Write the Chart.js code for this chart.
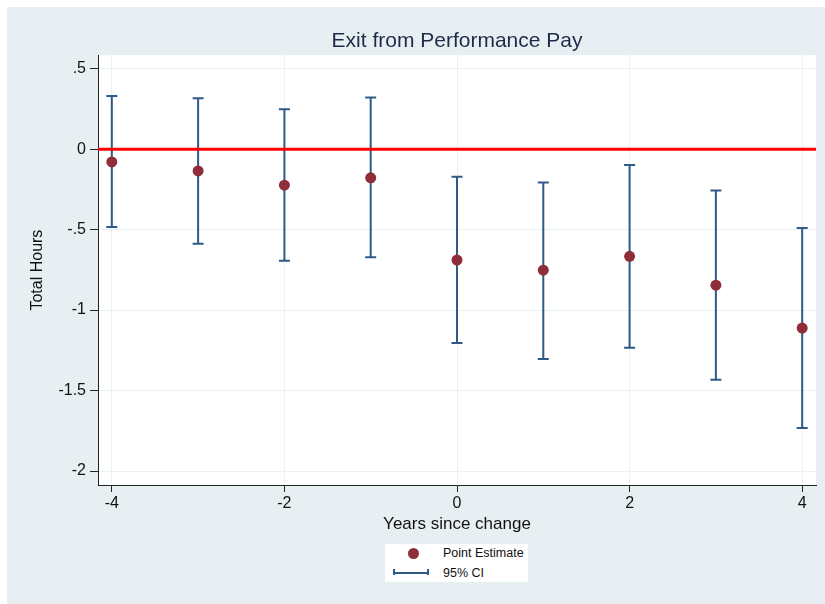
<!DOCTYPE html>
<html>
<head>
<meta charset="utf-8">
<title>Exit from Performance Pay</title>
<script src="https://cdn.jsdelivr.net/npm/chart.js@4/dist/chart.umd.min.js"></script>
<style>
  html, body { margin: 0; padding: 0; background: #fff; }
  #wrap { position: absolute; left: 7px; top: 7px; width: 818px; height: 597px; background: #e8eff2; }
  #legend { position: absolute; left: 378px; top: 537px; width: 143px; height: 38px; background: #fff;
            font-family: "Liberation Sans", Arial, sans-serif; font-size: 12.5px; color: #111; }
  .row { position: absolute; left: 0; height: 16px; line-height: 16px; }
  .row span.lbl { position: absolute; left: 58px; white-space: nowrap; }
  .dot { position: absolute; left: 22.5px; top: 2.5px; width: 11px; height: 11px; border-radius: 50%; background: #8f2d38; }
  .ci { position: absolute; left: 8px; top: 4px; width: 34px; height: 8px; }
  .ci:before { content: ""; position: absolute; left: 0; right: 0; top: 3px; height: 2px; background: #2d5a87; }
  .ci:after { content: ""; position: absolute; left: 0; top: 0; width: 32px; height: 6px; border-left: 2px solid #2d5a87; border-right: 2px solid #2d5a87; }
</style>
</head>
<body>
<div id="wrap">
  <canvas id="chart" width="818" height="597"></canvas>
  <div id="legend">
    <div class="row" style="top:1px; width:143px;"><div class="dot"></div><span class="lbl">Point Estimate</span></div>
    <div class="row" style="top:21px; width:143px;"><div class="ci"></div><span class="lbl">95% CI</span></div>
  </div>
</div>
<script>
// Event study: exit from performance pay
const years = [-4, -3, -2, -1, 0, 1, 2, 3, 4];
const estimates = [-0.079, -0.135, -0.224, -0.178, -0.689, -0.752, -0.666, -0.845, -1.112];
const ciUpper = [0.331, 0.317, 0.248, 0.321, -0.172, -0.207, -0.099, -0.257, -0.490];
const ciLower = [-0.484, -0.588, -0.694, -0.671, -1.205, -1.304, -1.234, -1.433, -1.733];

const xTickValues = [-4, -2, 0, 2, 4];
const xTickLabels = ['-4', '-2', '0', '2', '4'];
const yTickValues = [0.5, 0, -0.5, -1, -1.5, -2];
const yTickLabels = ['.5', '0', '-.5', '-1', '-1.5', '-2'];

const FONT = '"Liberation Sans", Arial, sans-serif';

// white plot region
const plotBackground = {
    id: 'plotBackground',
    beforeDraw(chart) {
        const { ctx, chartArea: a } = chart;
        ctx.save();
        ctx.fillStyle = '#ffffff';
        ctx.fillRect(a.left, a.top, a.right - a.left, a.bottom - a.top);
        ctx.restore();
    }
};

// confidence intervals and zero line, drawn under the points
const errorBars = {
    id: 'errorBars',
    beforeDatasetsDraw(chart) {
        const { ctx, chartArea: a } = chart;
        const xs = chart.scales.x;
        const ys = chart.scales.y;
        ctx.save();
        ctx.strokeStyle = '#2d5a87';
        ctx.lineWidth = 2;
        years.forEach((yr, i) => {
            const px = xs.getPixelForValue(yr);
            const top = ys.getPixelForValue(ciUpper[i]);
            const bot = ys.getPixelForValue(ciLower[i]);
            ctx.beginPath();
            ctx.moveTo(px, top);
            ctx.lineTo(px, bot);
            ctx.moveTo(px - 5.5, top);
            ctx.lineTo(px + 5.5, top);
            ctx.moveTo(px - 5.5, bot);
            ctx.lineTo(px + 5.5, bot);
            ctx.stroke();
        });
        const zero = ys.getPixelForValue(0);
        ctx.strokeStyle = '#ff0000';
        ctx.lineWidth = 3;
        ctx.beginPath();
        ctx.moveTo(a.left, zero);
        ctx.lineTo(a.right, zero);
        ctx.stroke();
        ctx.restore();
    }
};

new Chart(document.getElementById('chart'), {
    type: 'scatter',
    data: {
        datasets: [{
            label: 'Point Estimate',
            data: years.map((yr, i) => ({ x: yr, y: estimates[i] })),
            backgroundColor: '#8f2d38',
            borderWidth: 0,
            pointRadius: 5.5,
            pointHoverRadius: 5.5
        }]
    },
    options: {
        responsive: false,
        animation: false,
        layout: { padding: { left: 0, right: 9, top: 0, bottom: 69 } },
        plugins: {
            legend: { display: false },
            tooltip: { enabled: false },
            title: {
                display: true,
                fullSize: false,
                text: 'Exit from Performance Pay',
                color: '#1e2a4a',
                font: { family: FONT, size: 21, weight: 'normal' },
                padding: { top: 22, bottom: 1 }
            }
        },
        scales: {
            x: {
                type: 'linear',
                min: -4.16,
                max: 4.16,
                afterBuildTicks: function(scale) {
                    scale.ticks = xTickValues.map(v => ({ value: v }));
                },
                afterFit: function(scale) { scale.height = 50; },
                ticks: {
                    color: '#111',
                    font: { family: FONT, size: 16 },
                    padding: 2,
                    maxRotation: 0,
                    callback: function(value) {
                        const i = xTickValues.indexOf(value);
                        return i >= 0 ? xTickLabels[i] : '';
                    }
                },
                grid: { color: '#eaf1f3', tickColor: '#222', tickLength: 7 },
                border: { color: '#222', width: 1 },
                title: {
                    display: true,
                    text: 'Years since change',
                    color: '#111',
                    font: { family: FONT, size: 17 },
                    padding: { top: 3, bottom: 0 }
                }
            },
            y: {
                type: 'linear',
                min: -2.087,
                max: 0.584,
                afterBuildTicks: function(scale) {
                    scale.ticks = yTickValues.map(v => ({ value: v }));
                },
                afterFit: function(scale) { scale.width = 91; },
                ticks: {
                    color: '#111',
                    font: { family: FONT, size: 16 },
                    padding: 4,
                    callback: function(value) {
                        const i = yTickValues.indexOf(value);
                        return i >= 0 ? yTickLabels[i] : '';
                    }
                },
                grid: { color: '#eaf1f3', tickColor: '#222', tickLength: 8 },
                border: { color: '#222', width: 1 },
                title: {
                    display: true,
                    text: 'Total Hours',
                    color: '#111',
                    font: { family: FONT, size: 16 },
                    padding: { top: 21, bottom: 0 }
                }
            }
        }
    },
    plugins: [plotBackground, errorBars]
});
</script>
</body>
</html>
